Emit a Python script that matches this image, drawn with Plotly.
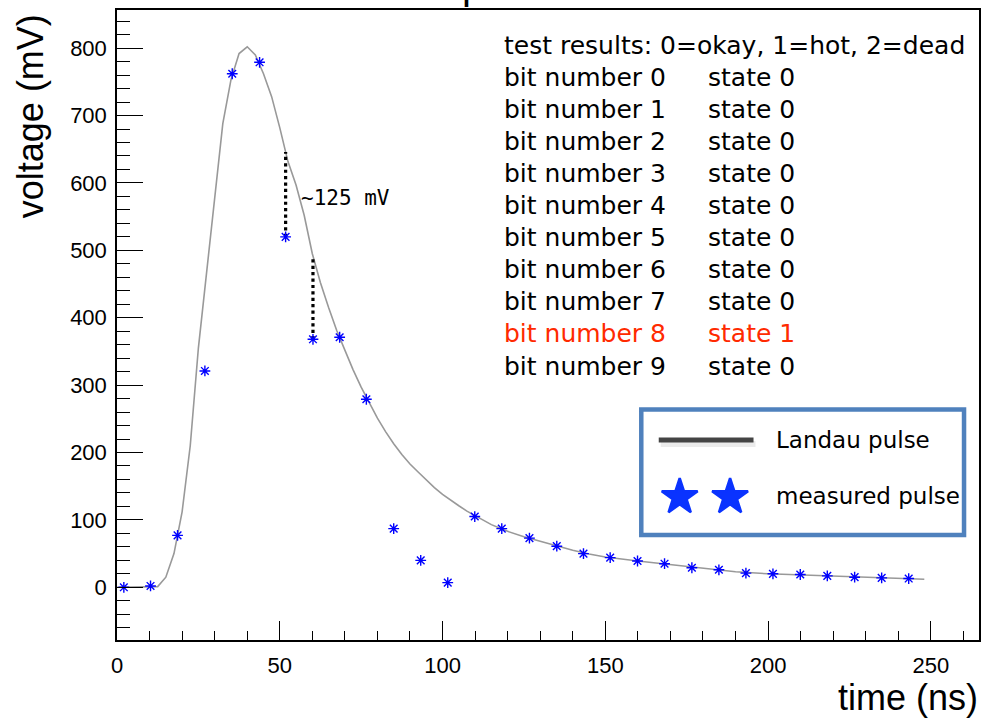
import plotly.graph_objects as go

# ---------------- data ----------------
curve_t = [0, 5, 10, 12.5, 15, 17.5, 20, 22.5, 25, 27.5, 30, 32.5, 35, 37.5, 40, 42.5,
           45, 47.5, 50, 52.5, 55, 57.5, 60, 62.5, 65, 67.5, 70, 72.5, 75, 77.5, 80,
           82.5, 85, 87.5, 90, 92.5, 95, 97.5, 100, 102.5, 105, 107.5, 110, 112.5,
           115, 117.5, 120, 125, 130, 135, 140, 145, 150, 160, 170, 180, 190, 200,
           210, 220, 230, 240, 248]
curve_v = [0, 0, 0, 1, 15, 50, 112, 210, 355, 465, 580, 688, 753, 792, 802, 790,
           762, 728, 682, 632, 597, 552, 495, 452, 415, 381, 352, 323, 297, 273, 251,
           231, 213, 197, 183, 171, 159, 148, 138, 129, 121, 113, 106, 99,
           93, 88, 83, 75, 68, 61, 55, 49.5, 45, 39, 33.5, 28, 23, 20,
           18.5, 16.5, 15, 13.3, 12]

t_meas = [2.1, 10.3, 18.6, 27.0, 35.4, 43.8, 51.8, 60.2, 68.4, 76.6, 85.0, 93.3,
          101.6, 109.9, 118.2, 126.7, 135.1, 143.3, 151.5, 159.9, 168.2, 176.6,
          184.9, 193.2, 201.5, 209.9, 218.2, 226.6, 234.9, 243.2]
v_meas = [0, 2, 77, 321, 762, 779, 520, 368, 371, 279, 87, 40,
          7, 105, 87, 73, 61, 50, 44, 39, 35, 29,
          26, 21, 20, 19, 17, 15, 14, 13]

gap_t = [51.8, 60.2]
gap_low = [520, 368]
gap_high = [646, 490]
gap_label = "~125 mV"

header = "test results: 0=okay, 1=hot, 2=dead"
bit_numbers = [0, 1, 2, 3, 4, 5, 6, 7, 8, 9]
bit_states = [0, 0, 0, 0, 0, 0, 0, 0, 1, 0]
legend_labels = ["Landau pulse", "measured pulse"]

# ---------------- layout helpers (pixel -> paper) ----------------
L, R, T, B = 117, 7, 10, 80
W, H = 988, 720
PW, PH = W - L - R, H - T - B


def px(p):
    return (p - L) / PW


def py(p):
    return (H - B - p) / PH


TEXT_FONT = "DejaVu Sans"
AXIS_FONT = "Liberation Sans, Arial, sans-serif"

fig = go.Figure()

# Landau curve
fig.add_trace(go.Scatter(x=curve_t, y=curve_v, mode="lines",
                         line=dict(color="#999999", width=1.6),
                         showlegend=False, hoverinfo="skip"))

# dotted gap markers
for t, lo, hi in zip(gap_t, gap_low, gap_high):
    fig.add_trace(go.Scatter(x=[t, t], y=[lo, hi], mode="lines",
                             line=dict(color="black", width=3.2, dash="dot"),
                             showlegend=False, hoverinfo="skip"))

# measured points
fig.add_trace(go.Scatter(x=t_meas, y=v_meas, mode="markers",
                         marker=dict(symbol="asterisk-open", size=9, color="#0000ff",
                                     line=dict(color="#0000ff", width=1.4)),
                         showlegend=False))

# legend stars on overlay pixel axes
fig.add_trace(go.Scatter(x=[681, 731.5], y=[497, 497], mode="markers",
                         xaxis="x2", yaxis="y2",
                         marker=dict(symbol="star", size=27, color="#0a33ff",
                                     line=dict(color="#0a33ff", width=2.5)),
                         showlegend=False, hoverinfo="skip"))

annotations = []
# gap label
annotations.append(dict(x=55.8, y=578, xref="x", yref="y", text=gap_label,
                        showarrow=False, xanchor="left", yanchor="middle",
                        font=dict(family="DejaVu Sans Mono, monospace", size=21, color="black")))

# status text
row_y0, row_dy = 45, 32.1
annotations.append(dict(x=px(503), y=py(row_y0), xref="paper", yref="paper", text=header,
                        showarrow=False, xanchor="left", yanchor="middle",
                        font=dict(family=TEXT_FONT, size=25, color="black")))
for i, (b, s) in enumerate(zip(bit_numbers, bit_states)):
    col = "#ff2a00" if s == 1 else "black"
    yy = py(row_y0 + row_dy * (i + 1))
    annotations.append(dict(x=px(503), y=yy, xref="paper", yref="paper",
                            text=f"bit number {b}", showarrow=False,
                            xanchor="left", yanchor="middle",
                            font=dict(family=TEXT_FONT, size=25, color=col)))
    annotations.append(dict(x=px(707.5), y=yy, xref="paper", yref="paper",
                            text=f"state {s}", showarrow=False,
                            xanchor="left", yanchor="middle",
                            font=dict(family=TEXT_FONT, size=25, color=col)))

# legend texts
annotations.append(dict(x=px(776), y=py(440), xref="paper", yref="paper", text=legend_labels[0],
                        showarrow=False, xanchor="left", yanchor="middle",
                        font=dict(family=TEXT_FONT, size=23, color="black")))
annotations.append(dict(x=px(776), y=py(496), xref="paper", yref="paper", text=legend_labels[1],
                        showarrow=False, xanchor="left", yanchor="middle",
                        font=dict(family=TEXT_FONT, size=23, color="black")))

# axis titles
annotations.append(dict(x=px(30), y=py(12), xref="paper", yref="paper", text="voltage (mV)",
                        showarrow=False, textangle=-90, xanchor="center", yanchor="top",
                        font=dict(family=AXIS_FONT, size=36, color="black")))
annotations.append(dict(x=px(982), y=py(720), xref="paper", yref="paper", text="time (ns)",
                        showarrow=False, xanchor="right", yanchor="bottom",
                        font=dict(family=AXIS_FONT, size=36, color="black")))
# clipped title fragment at the top edge (the reference title is cut off by the frame)
annotations.append(dict(x=px(461), y=py(9), xref="paper", yref="paper", text="p",
                        showarrow=False, xanchor="left", yanchor="bottom",
                        font=dict(family=AXIS_FONT, size=40, color="black")))

shapes = [
    # legend box (below traces so the stars show on top of its white fill)
    dict(type="rect", xref="paper", yref="paper", x0=px(642.5), x1=px(966), y0=py(409.5), y1=py(535),
         line=dict(color="#4f81bd", width=4.5), fillcolor="white", layer="below"),
    # legend line shadow and line
    dict(type="line", xref="paper", yref="paper", x0=px(662), x1=px(757), y0=py(444), y1=py(444),
         line=dict(color="rgba(0,0,0,0.08)", width=6), layer="above"),
    dict(type="line", xref="paper", yref="paper", x0=px(660), x1=px(755), y0=py(440), y1=py(440),
         line=dict(color="#444444", width=5), layer="above"),
]

fig.update_layout(
    width=W, height=H,
    margin=dict(l=L, r=R, t=T, b=B, pad=0),
    paper_bgcolor="white", plot_bgcolor="white",
    showlegend=False,
    annotations=annotations,
    shapes=shapes,
    xaxis=dict(range=[0, 264.8], showgrid=False, zeroline=False,
               showline=True, linecolor="black", linewidth=1.5, mirror=True,
               ticks="inside", ticklen=19, tickwidth=1.3, tickcolor="black",
               tick0=0, dtick=50, ticklabelstandoff=5,
               tickfont=dict(family=AXIS_FONT, size=22, color="black"),
               minor=dict(ticks="inside", ticklen=9, tickwidth=1.3, tickcolor="black",
                          tick0=0, dtick=10, showgrid=False)),
    yaxis=dict(range=[-78.2, 856.6], showgrid=False, zeroline=False,
               showline=True, linecolor="black", linewidth=1.5, mirror=True,
               ticks="inside", ticklen=26, tickwidth=1.3, tickcolor="black",
               tick0=0, dtick=100, ticklabelstandoff=4,
               tickfont=dict(family=AXIS_FONT, size=22, color="black"),
               minor=dict(ticks="inside", ticklen=13, tickwidth=1.3, tickcolor="black",
                          tick0=0, dtick=20, showgrid=False)),
    xaxis2=dict(overlaying="x", range=[L, W - R], visible=False, fixedrange=True),
    yaxis2=dict(overlaying="y", range=[H - B, T], visible=False, fixedrange=True),
)

fig.write_html("out.html")
